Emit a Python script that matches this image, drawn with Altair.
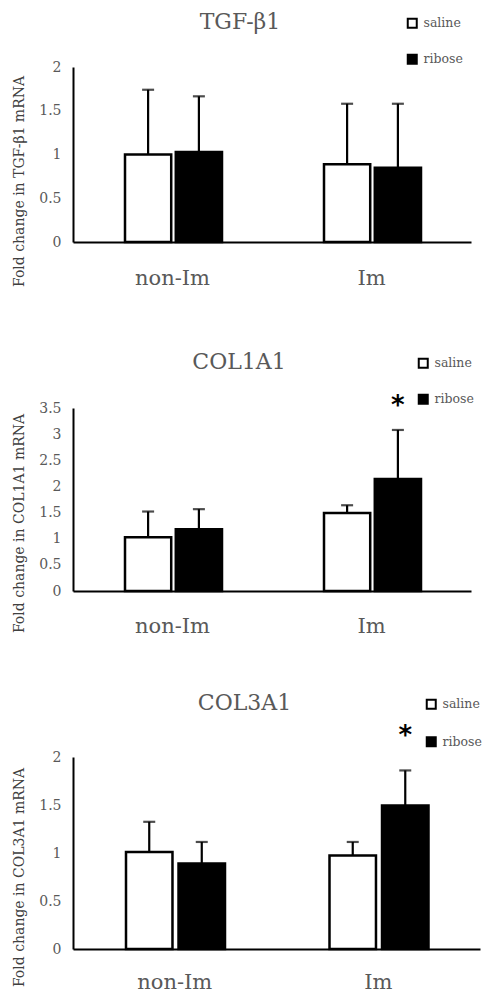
import altair as alt
import pandas as pd

categories = ["non-Im", "Im"]
groups = ["saline", "ribose"]

tgf_saline = [1.00, 0.89]
tgf_saline_sd = [0.74, 0.69]
tgf_ribose = [1.03, 0.85]
tgf_ribose_sd = [0.635, 0.73]

col1_saline = [1.03, 1.49]
col1_saline_sd = [0.49, 0.15]
col1_ribose = [1.18, 2.14]
col1_ribose_sd = [0.385, 0.94]

col3_saline = [1.01, 0.975]
col3_saline_sd = [0.315, 0.14]
col3_ribose = [0.89, 1.495]
col3_ribose_sd = [0.225, 0.365]

titles = ["TGF-β1", "COL1A1", "COL3A1"]
y_titles = ["Fold change in TGF-β1 mRNA", "Fold change in COL1A1 mRNA", "Fold change in COL3A1 mRNA"]
y_max = [2, 3.5, 2]
star_y = [None, 3.66, 2.28]

FONT = "DejaVu Serif"
GREY = "#595959"


def make_df(saline, saline_sd, ribose, ribose_sd):
    rows = []
    for i, c in enumerate(categories):
        rows.append(dict(cat=c, grp="saline", mean=saline[i], top=saline[i] + saline_sd[i]))
        rows.append(dict(cat=c, grp="ribose", mean=ribose[i], top=ribose[i] + ribose_sd[i]))
    return pd.DataFrame(rows)


def panel(df, title, ytitle, ymax, width, height, off_range, off_pi, title_dx,
          lx, ly, row_pad, ytitle_y, title_off, lab_pad, star=None):
    x = alt.X("cat:N", sort=categories,
              scale=alt.Scale(domain=categories, paddingInner=0, paddingOuter=0),
              axis=alt.Axis(title=None, labelAngle=0, labelFont=FONT, labelFontSize=21,
                            labelColor=GREY, labelPadding=lab_pad, ticks=False,
                            domainColor="black", domainWidth=2))
    xo = alt.XOffset("grp:N", scale=alt.Scale(domain=groups, range=off_range,
                                              paddingInner=off_pi, paddingOuter=0))
    vals = [v * 0.5 for v in range(int(ymax * 2) + 1)]

    def ydef(field):
        return alt.Y(f"{field}:Q", scale=alt.Scale(domain=[0, ymax], nice=False),
                     axis=alt.Axis(values=vals, format="~g", title=ytitle, grid=False,
                                   ticks=False, domainColor="black", domainWidth=2,
                                   labelFont=FONT, labelFontSize=14, labelColor=GREY,
                                   labelPadding=12, titleFont=FONT, titleFontSize=14,
                                   titleFontWeight="normal", titleColor="#404040",
                                   titleX=-54, titleY=ytitle_y, titleAlign="center",
                                   titleBaseline="middle", titleAngle=270))

    bars = alt.Chart(df).mark_bar(stroke="black", strokeWidth=2.5).encode(
        x=x, xOffset=xo, y=ydef("mean"),
        fill=alt.Fill("grp:N", scale=alt.Scale(domain=groups, range=["white", "black"]),
                      legend=alt.Legend(title=None, orient="none", legendX=lx, legendY=ly,
                                        symbolType="square", symbolSize=81,
                                        symbolStrokeColor="black", symbolStrokeWidth=2,
                                        labelFont=FONT, labelFontSize=12.5, labelColor=GREY,
                                        labelOffset=5, rowPadding=row_pad, padding=0)))
    err = alt.Chart(df).mark_rule(color="black", strokeWidth=2.2).encode(
        x=x, xOffset=xo, y=ydef("mean"), y2="top:Q")
    cap = alt.Chart(df).mark_tick(color="black", thickness=2.2, size=12).encode(
        x=x, xOffset=xo, y=ydef("top"))
    layers = [bars, err, cap]
    if star is not None:
        sdf = pd.DataFrame([dict(cat="Im", grp="ribose", sy=star)])
        txt = alt.Chart(sdf).mark_text(text="*", font="DejaVu Sans", fontSize=26,
                                       fontWeight="bold", baseline="alphabetic",
                                       dy=14, color="black").encode(
            x=x, xOffset=xo, y=ydef("sy"))
        layers.append(txt)
    return alt.layer(*layers).properties(
        width=width, height=height,
        title=alt.TitleParams(text=title, font=FONT, fontSize=22, fontWeight="normal",
                              color=GREY, frame="group", anchor="middle", dx=title_dx,
                              offset=title_off, baseline="bottom"))


p1 = panel(make_df(tgf_saline, tgf_saline_sd, tgf_ribose, tgf_ribose_sd),
           titles[0], y_titles[0], y_max[0], 398, 175, [52, 149], 0.09, -32,
           333, -50, 18, 114, -39, 25, star_y[0])
p2 = panel(make_df(col1_saline, col1_saline_sd, col1_ribose, col1_ribose_sd),
           titles[1], y_titles[1], y_max[1], 398, 183, [52, 149], 0.09, -33,
           344, -51, 18, 115, -39, 24, star_y[1])
p3 = panel(make_df(col3_saline, col3_saline_sd, col3_ribose, col3_ribose_sd),
           titles[2], y_titles[2], y_max[2], 407, 192, [53, 152], 0.115, -32,
           352, -59, 19.5, 120, -39, 22, star_y[2])

chart = alt.vconcat(p1, p2, p3, spacing=166, bounds="flush").resolve_scale(
    fill="independent", x="independent", y="independent", xOffset="independent"
).resolve_legend(fill="independent").properties(
    padding={"left": 3, "top": 3, "right": 0, "bottom": 0}
).configure_view(strokeWidth=0)

chart.save("out.html", embed_options={"renderer": "svg", "actions": False})
